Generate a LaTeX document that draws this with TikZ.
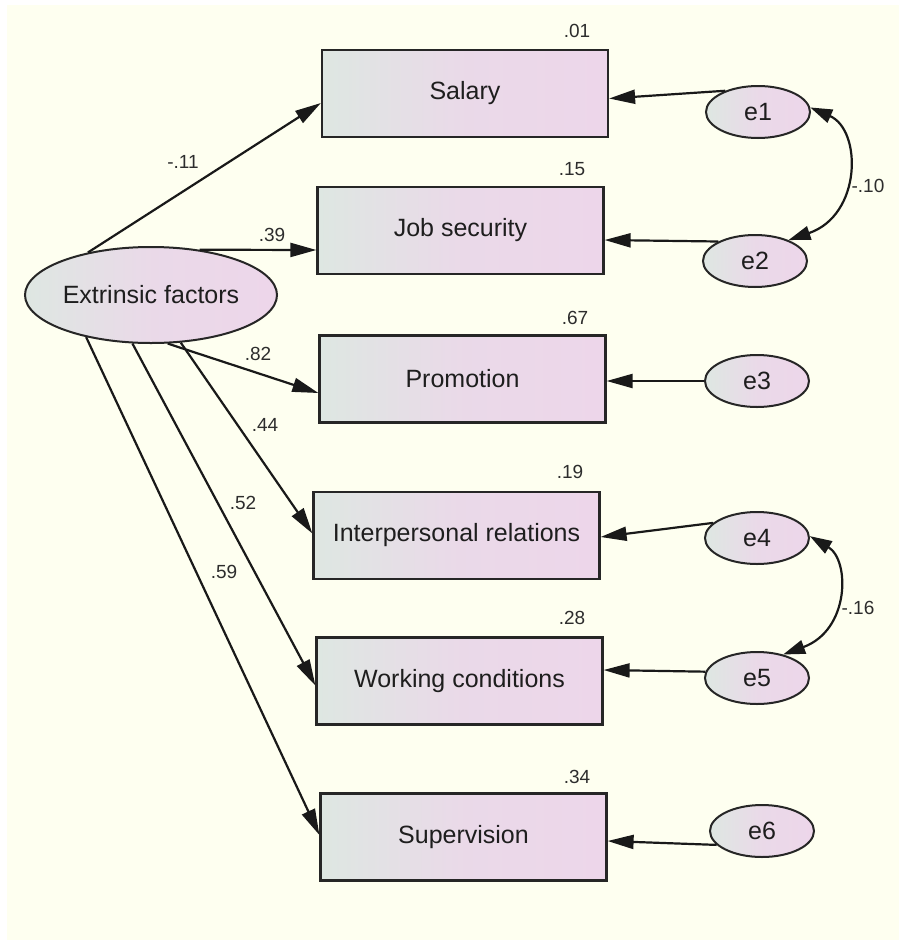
\documentclass[tikz,border=0pt]{standalone}
\usepackage{fontspec}
\setmainfont{Liberation Sans}
\usetikzlibrary{arrows.meta,shapes.geometric,calc}
\definecolor{bgc}{RGB}{254,255,240}
\definecolor{gl}{RGB}{222,231,226}
\definecolor{gr}{RGB}{237,214,234}
\definecolor{txt}{RGB}{30,30,30}
\definecolor{ltxt}{RGB}{45,45,45}
\begin{document}
\begin{tikzpicture}[x=1pt,y=-1pt,
  obs/.style={draw=black!85, line width=2.2pt, rectangle, minimum width=286pt, minimum height=87pt,
    inner sep=0pt, left color=gl, right color=gr, middle color=gr!80!gl, font=\fontsize{25}{28}\selectfont, text=txt},
  lat/.style={draw=black!85, line width=2pt, ellipse, inner sep=0pt, left color=gl, right color=gr,
    middle color=gr!80!gl, font=\fontsize{25}{28}\selectfont, text=txt},
  err/.style={lat, minimum width=104pt, minimum height=52pt},
  pth/.style={line width=2.2pt, draw=black!90, -{Triangle[length=26pt,width=14pt]}},
  cov/.style={line width=2.2pt, draw=black!90, {Triangle[length=22pt,width=14pt]}-{Triangle[length=22pt,width=14pt]}},
  lab/.style={font=\fontsize{19}{22}\selectfont, text=ltxt, inner sep=0pt}
]
\useasboundingbox (0,0) rectangle (899,940);
\fill[white] (0,0) rectangle (899,940);
\fill[bgc] (7,5) rectangle (899,940);

% latent factor
\node[lat, minimum width=252pt, minimum height=96pt] (F) at (151,295) {Extrinsic factors};

% observed variables
\node[obs] (sal) at (465,93.5) {Salary};
\node[obs] (job) at (460.5,230.5) {Job security};
\node[obs] (pro) at (462.5,379) {Promotion};
\node[obs] (int) at (456.5,535.5) {Interpersonal relations};
\node[obs] (wor) at (459.5,681) {Working conditions};
\node[obs] (sup) at (463.5,837) {Supervision};

% errors
\node[err] (e1) at (758,112) {e1};
\node[err] (e2) at (755,261) {e2};
\node[err] (e3) at (757,381) {e3};
\node[err] (e4) at (757,538) {e4};
\node[err] (e5) at (757,678) {e5};
\node[err] (e6) at (762,831) {e6};

% loadings
\draw[pth] (F.146) -- ([yshift=-9.5pt]sal.west);
\draw[pth] (F.43) -- ([yshift=-19.5pt]job.west);
\draw[pth] (F.-71) -- ([yshift=-14pt]pro.west);
\draw[pth] (F.-58) -- ([yshift=2pt]int.west);
\draw[pth] (F.-111) -- ([yshift=-4.5pt]wor.west);
\draw[pth] (F.-147) -- ([yshift=2pt]sup.west);

% error paths
\draw[pth] (e1.147) -- ([yshift=-5pt]sal.east);
\draw[pth] (e2.152) -- ([yshift=-9.5pt]job.east);
\draw[pth] (e3.west) -- ([yshift=-2pt]pro.east);
\draw[pth] (e4.161) -- ([yshift=-1.5pt]int.east);
\draw[pth] (e5.173) -- ([yshift=11pt]wor.east);
\draw[pth] (e6.197) -- ([yshift=-4pt]sup.east);

% covariances
\draw[cov] (e1.5) .. controls (862,130) and (862,215) .. (e2.32);
\draw[cov] (e4.2) .. controls (850,560) and (850,630) .. (e5.42);

% loading labels
\node[lab] (l1) at (183,162) {-.11};
\node[lab] (l2) at (272,235) {.39};
\node[lab] (l3) at (258,354) {.82};
\node[lab] (l4) at (265,425) {.44};
\node[lab] (l5) at (243,503) {.52};
\node[lab] (l6) at (224,572) {.59};

% covariance labels
\node[lab] (c1) at (868,186) {-.10};
\node[lab] (c2) at (858,608) {-.16};

% R squared labels
\node[lab] (r1) at (577,31) {.01};
\node[lab] (r2) at (572,169) {.15};
\node[lab] (r3) at (575,318) {.67};
\node[lab] (r4) at (570,472) {.19};
\node[lab] (r5) at (572,618) {.28};
\node[lab] (r6) at (577,777) {.34};
\end{tikzpicture}
\end{document}
